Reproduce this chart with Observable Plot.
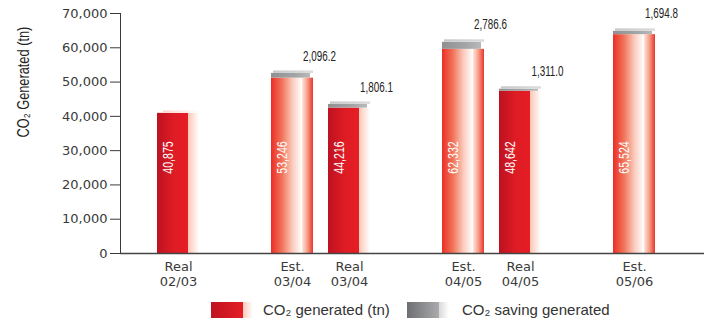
<!DOCTYPE html>
<html>
<head>
<meta charset="utf-8">
<title>CO₂ generated</title>
<script src="https://cdn.jsdelivr.net/npm/d3@7"></script>
<script src="https://cdn.jsdelivr.net/npm/@observablehq/plot@0.6"></script>
<style>
  html, body { margin: 0; padding: 0; background: #fff; }
  #wrap { position: relative; width: 711px; height: 320px; overflow: hidden; }
  .legend { position: relative; height: 26px; font: 15px "Liberation Sans", Arial, sans-serif; color: #333; }
  .legend .sw { position: absolute; top: 8px; height: 16px; width: 42px; }
  .legend .lab { position: absolute; top: 6px; line-height: 20px; white-space: nowrap; }
  .sw.red { background: linear-gradient(to right, #bf1320 0px, #e41d25 32px, #fccabb 32px, #ffffff 42px); }
  .sw.grey { background: linear-gradient(to right, #6e6f72 0px, #a9aaac 32px, #d9d9da 32px, #ffffff 42px); }
</style>
</head>
<body>
<div id="wrap">
  <div id="chart"></div>
  <div class="legend">
    <span class="sw red" style="left:211px"></span><span class="lab" style="left:263px">CO₂ generated (tn)</span>
    <span class="sw grey" style="left:407px"></span><span class="lab" style="left:462px">CO₂ saving generated</span>
  </div>
</div>
<script>
// Reported and estimated CO₂ generated per period, with the saving stacked on top
const periods = ["Real\n02/03", "Est.\n03/04", "Real\n03/04", "Est.\n04/05", "Real\n04/05", "Est.\n05/06"];
const generated = [40875, 53246, 44216, 62332, 48642, 65524];
const savings = [null, 2096.2, 1806.1, 2786.6, 1311.0, 1694.8];
const gaps = [" ", "  ", "   "]; // empty slots separating the years
const yTicks = [0, 10000, 20000, 30000, 40000, 50000, 60000, 70000];
const yLabel = "CO₂ Generated (tn)";

const xDomain = [periods[0], gaps[0], periods[1], periods[2], gaps[1], periods[3], periods[4], gaps[2], periods[5]];

const rows = periods.map((p, i) => ({
  period: p,
  estimate: p.startsWith("Est"),
  total: generated[i],
  saving: savings[i],
  base: generated[i] - (savings[i] ?? 0)
}));
const real = rows.filter(d => !d.estimate);
const est = rows.filter(d => d.estimate);
const capped = rows.filter(d => d.saving != null);
const open = rows.filter(d => d.saving == null);

const condensed = "'Liberation Sans', Arial, sans-serif";
const fmtInt = d3.format(",");
const fmtDec = d3.format(",.1f");

const chart = Plot.plot({
  width: 711,
  height: 294,
  marginLeft: 120,
  marginRight: 7,
  marginTop: 13,
  marginBottom: 41,
  style: {fontFamily: "'DejaVu Sans', sans-serif", fontSize: "13px", color: "#3a3a3a", background: "#fff", overflow: "visible"},
  x: {type: "band", domain: xDomain, paddingInner: 0.268, paddingOuter: 0.7235, align: 0.434, label: null},
  y: {domain: [0, 70000], ticks: yTicks, tickFormat: fmtInt, tickSize: 10, tickPadding: 3, label: null, line: true},
  marks: [
    Plot.axisX({tickSize: 0, tickPadding: 8, lineHeight: 1.08, label: null}),
    // front and side faces of each bar
    Plot.barY(real, {x: "period", y: "base", insetRight: 11, fill: "url(#realFront)"}),
    Plot.barY(real, {x: "period", y: "base", insetLeft: 31, fill: "url(#realSide)"}),
    Plot.barY(est, {x: "period", y: "base", insetRight: 11, fill: "url(#estFront)"}),
    Plot.barY(est, {x: "period", y: "base", insetLeft: 31, fill: "url(#estSide)"}),
    // pale top face where there is no saving cap
    Plot.barY(open, {x: "period", y1: "total", y2: "total", insetTop: -2.5, insetLeft: 6, insetRight: -1, fill: "url(#openTop)"}),
    // grey saving cap
    Plot.barY(capped, {x: "period", y1: "base", y2: "total", insetTop: 2.5, insetRight: 3, fill: "url(#capFront)"}),
    Plot.barY(capped, {x: "period", y1: "total", y2: "total", insetBottom: -2.5, insetLeft: 2, fill: "url(#capTop)"}),
    Plot.ruleY([0], {stroke: "#444", strokeWidth: 1.5}),
    // values written inside the bars
    Plot.text(rows, {x: "period", text: d => fmtInt(d.total), frameAnchor: "bottom", dy: -96, dx: -5.5, rotate: -90,
      fill: "white", fontSize: 14, fontFamily: condensed, ariaDescription: "bar values"}),
    // saving values above the caps
    Plot.text(capped, {x: "period", y: "total", text: d => fmtDec(d.saving), dx: 27, dy: -15,
      fill: "#222", fontSize: 14.5, fontFamily: condensed, ariaDescription: "saving values"}),
    // y axis title
    Plot.text([yLabel], {frameAnchor: "left", rotate: -90, dx: -97, dy: 4, fill: "#222", fontSize: 16, fontFamily: condensed,
      ariaDescription: "y title"})
  ]
});

// narrow the condensed labels along their reading direction
function narrow(selector, k) {
  d3.select(chart).selectAll(selector).each(function() {
    const t = this.getAttribute("transform");
    if (t) {
      this.setAttribute("transform", t + ` scale(${k},1)`);
    } else {
      const x = +this.getAttribute("x") || 0, y = +this.getAttribute("y") || 0;
      this.setAttribute("transform", `translate(${x},${y}) scale(${k},1) translate(${-x},${-y})`);
    }
  });
}
narrow('g[aria-description="bar values"] text', 0.76);
narrow('g[aria-description="saving values"] text', 0.68);
narrow('g[aria-description="y title"] text', 0.8);

// gradients used by the bar faces
const defs = d3.select(chart).insert("defs", ":first-child");
function grad(id, stops) {
  const g = defs.append("linearGradient").attr("id", id).attr("x1", 0).attr("y1", 0).attr("x2", 1).attr("y2", 0);
  for (const [o, c] of stops) g.append("stop").attr("offset", o).attr("stop-color", c);
}
grad("realFront", [[0, "#bd1220"], [0.55, "#df1c25"], [1, "#e61d25"]]);
grad("realSide", [[0, "#fcc6b4"], [0.5, "#fee3da"], [1, "#ffffff"]]);
grad("estFront", [[0, "#ec2f25"], [0.35, "#f07359"], [0.7, "#fbcdbf"], [1, "#ffffff"]]);
grad("estSide", [[0, "#fde6de"], [0.45, "#f7a58e"], [1, "#e9362b"]]);
grad("openTop", [[0, "#fbd9cc"], [1, "#ffffff"]]);
grad("capFront", [[0, "#8f9092"], [0.6, "#a3a4a6"], [1, "#b8b9bb"]]);
grad("capTop", [[0, "#c7c8c9"], [1, "#dcdcdd"]]);

document.getElementById("chart").append(chart);
</script>
</body>
</html>
